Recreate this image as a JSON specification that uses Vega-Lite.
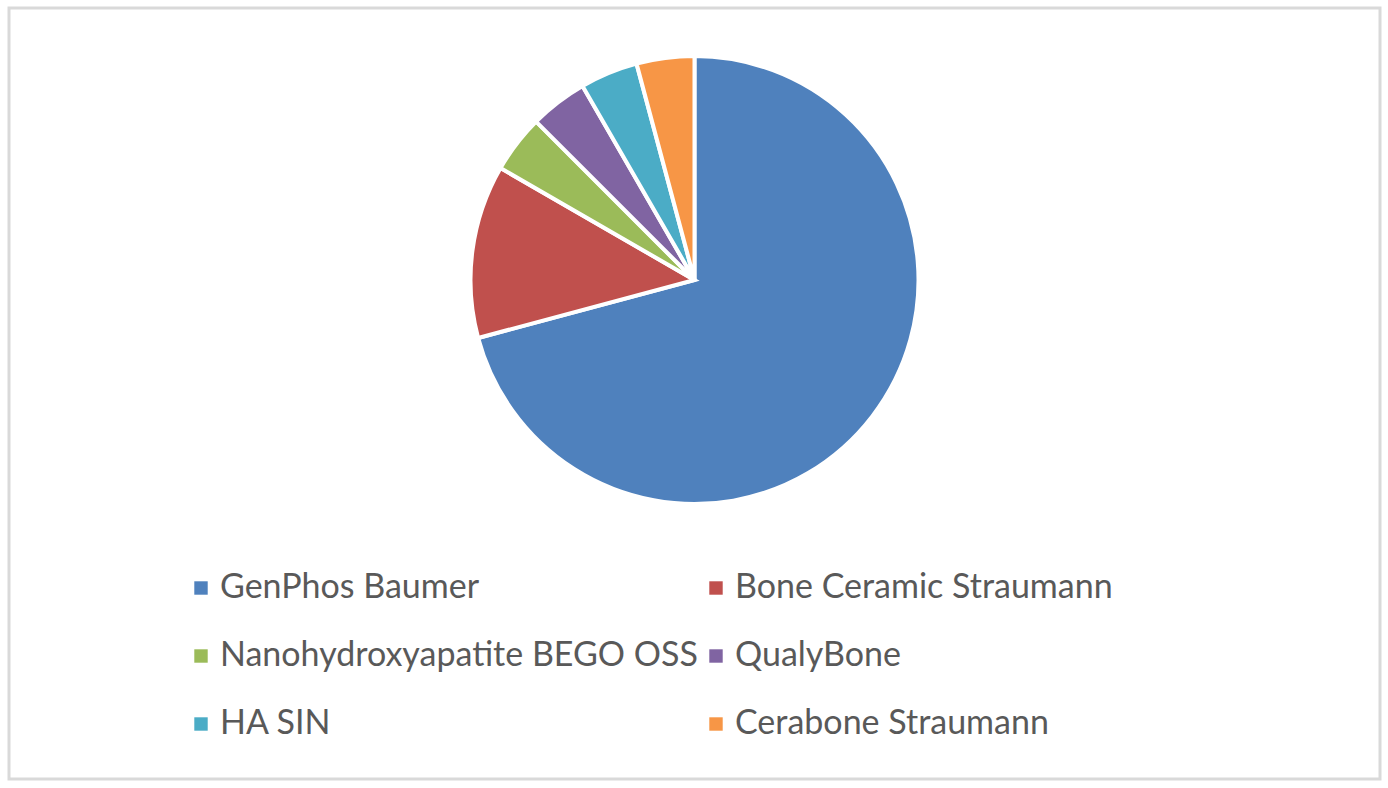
{
  "$schema": "https://vega.github.io/schema/vega-lite/v6.json",
  "autosize": {"type": "none"},
  "width": 1371,
  "height": 771,
  "padding": {"left": 9, "top": 8, "right": 8, "bottom": 9},
  "background": "white",
  "config": {
    "view": {"stroke": "#d9d9d9", "strokeWidth": 3},
    "font": "Lato"
  },
  "data": {
    "values": [
      {"material": "GenPhos Baumer", "value": 17, "order": 1},
      {"material": "Bone Ceramic Straumann", "value": 3, "order": 2},
      {"material": "Nanohydroxyapatite BEGO OSS", "value": 1, "order": 3},
      {"material": "QualyBone", "value": 1, "order": 4},
      {"material": "HA SIN", "value": 1, "order": 5},
      {"material": "Cerabone Straumann", "value": 1, "order": 6}
    ]
  },
  "layer": [
    {
      "mark": {"type": "point", "opacity": 0},
      "encoding": {
        "x": {"datum": 0, "type": "quantitative", "axis": null},
        "y": {"datum": 0, "type": "quantitative", "axis": null}
      }
    },
    {
      "mark": {"type": "arc", "outerRadius": 224, "stroke": "white", "strokeWidth": 4, "x": {"expr": "width/2"}, "y": {"expr": "272"}},
      "encoding": {
        "theta": {"field": "value", "type": "quantitative", "stack": true},
        "order": {"field": "order", "type": "quantitative"},
        "color": {
          "field": "material",
          "type": "nominal",
          "sort": ["GenPhos Baumer", "Bone Ceramic Straumann", "Nanohydroxyapatite BEGO OSS", "QualyBone", "HA SIN", "Cerabone Straumann"],
          "scale": {
            "domain": ["GenPhos Baumer", "Bone Ceramic Straumann", "Nanohydroxyapatite BEGO OSS", "QualyBone", "HA SIN", "Cerabone Straumann"],
            "range": ["#4F81BD", "#C0504D", "#9BBB59", "#8064A2", "#4BACC6", "#F79646"]
          },
          "legend": {
            "title": null,
            "orient": "none",
            "legendX": 175,
            "legendY": 563,
            "columns": 2,
            "direction": "horizontal",
            "symbolType": "square",
            "symbolSize": 180,
            "symbolStrokeWidth": 0,
            "labelFont": "Lato",
            "labelFontSize": 34,
            "labelColor": "#595959",
            "labelOffset": 2,
            "labelLimit": 800,
            "rowPadding": 34,
            "columnPadding": 1
          }
        }
      }
    }
  ]
}
